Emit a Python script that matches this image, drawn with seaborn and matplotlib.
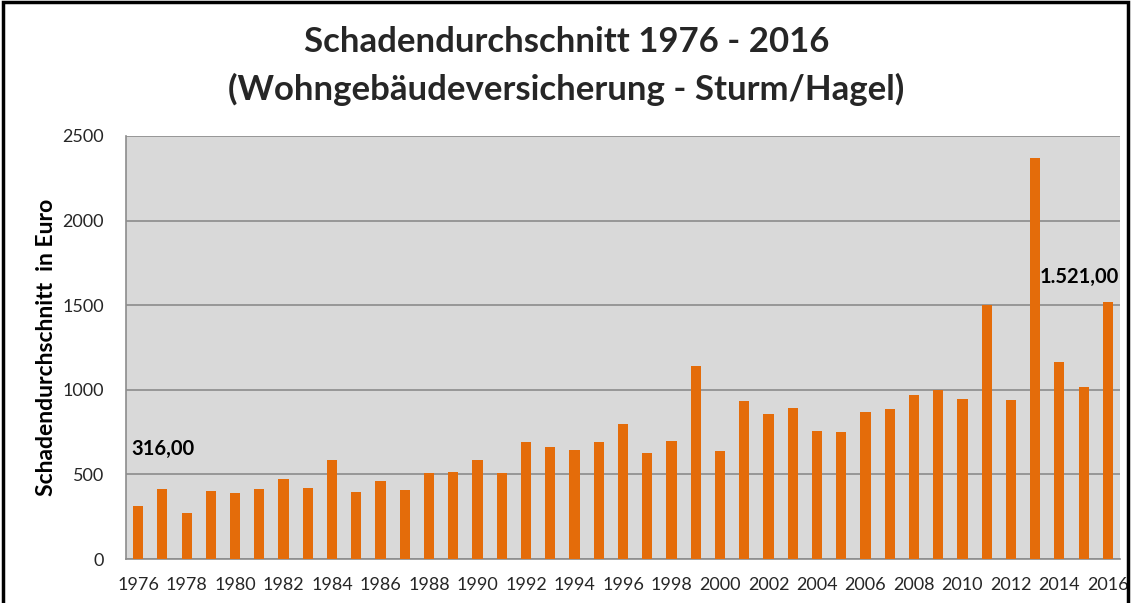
import matplotlib
matplotlib.use("Agg")
import matplotlib.pyplot as plt
import seaborn as sns
import pandas as pd
from matplotlib.patches import Rectangle

years = list(range(1976, 2017))
values = [316, 414, 274, 402, 390, 414, 475, 420, 583, 396, 463, 408, 510,
          516, 583, 510, 691, 662, 644, 691, 800, 626, 697, 1139, 638, 932,
          855, 890, 758, 753, 867, 885, 969, 999, 946, 1500, 940, 2370, 1162,
          1017, 1521]
title_lines = ["Schadendurchschnitt 1976 - 2016", "(Wohngebäudeversicherung - Sturm/Hagel)"]
ylabel = "Schadendurchschnitt  in Euro"
annotations = {1976: "316,00", 2016: "1.521,00"}

sns.set_theme(style="white")
plt.rcParams['font.family'] = ['Lato', 'DejaVu Sans']

df = pd.DataFrame({"Jahr": [str(y) for y in years], "Wert": values})

fig = plt.figure(figsize=(11.33, 6.03), dpi=100)
ax = fig.add_axes([126/1133, 1 - 559/603, (1120-126)/1133, (559-136)/603])
ax.set_facecolor("#D9D9D9")

sns.barplot(data=df, x="Jahr", y="Wert", color="#E46C0A", saturation=1,
            width=0.42, ax=ax, zorder=3, linewidth=0)

ax.set_ylim(0, 2500)
ax.set_yticks([0, 500, 1000, 1500, 2000, 2500])
ax.yaxis.grid(True, color="#8C8C8C", linewidth=1.2, zorder=0)
ax.set_axisbelow(True)
ax.set_xlim(-0.5, len(years) - 0.5)
ticks = list(range(0, len(years), 2))
ax.set_xticks(ticks)
ax.set_xticklabels([str(years[i]) for i in ticks], fontsize=13, color="#262626")
ax.tick_params(axis="x", length=0, pad=13)
ax.tick_params(axis="y", length=0, pad=16, labelsize=13, labelcolor="#262626")
ax.set_xlabel("")
ax.set_ylabel(ylabel, fontsize=16.5, fontweight="bold", labelpad=4, color="black")
for s in ["top", "right"]:
    ax.spines[s].set_visible(False)
for s in ["left", "bottom"]:
    ax.spines[s].set_color("#8C8C8C")
    ax.spines[s].set_linewidth(1.2)

for yr, txt in annotations.items():
    i = years.index(yr)
    v = values[i]
    if yr == years[0]:
        ax.text(i - 0.3, v + 334, txt, fontsize=14.5, fontweight="bold", ha="left", va="center", color="black")
    else:
        ax.text(i + 0.45, v + 146, txt, fontsize=14.5, fontweight="bold", ha="right", va="center", color="black")

fig.text(0.5, 1 - 42/603, title_lines[0], ha="center", va="center", fontsize=25, fontweight="bold")
fig.text(0.5, 1 - 89/603, title_lines[1], ha="center", va="center", fontsize=25, fontweight="bold")

fig.patches.append(Rectangle((3/1133, -0.05), (1128-3)/1133, 1.05 - 2/603,
                             transform=fig.transFigure, fill=False,
                             edgecolor="black", linewidth=2.5, figure=fig))

fig.savefig("out.png", dpi=100)
